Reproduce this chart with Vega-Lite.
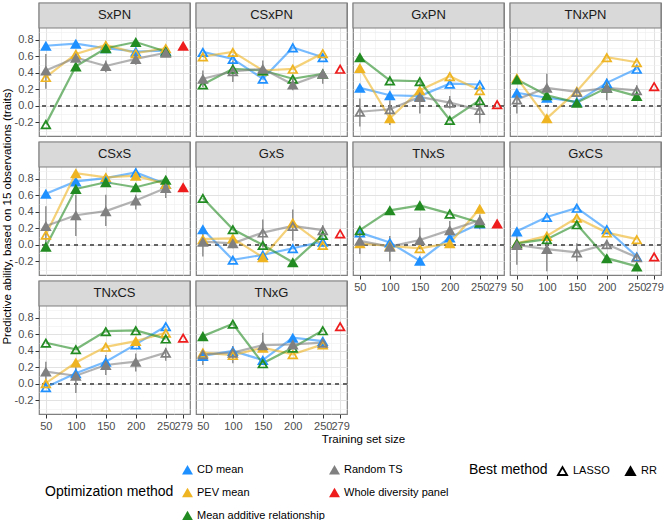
{
"$schema":"https://vega.github.io/schema/vega-lite/v6.json",
"padding":{"left":0,"top":1,"right":2,"bottom":2},
"config":{"font":"Liberation Sans","mark":{"color":"#000000"},"view":{"stroke":"#7f7f7f","strokeWidth":1.2},"axis":{"grid":true,"domain":false,"tickColor":"#333333","tickSize":4,"tickCount":20,"labelColor":"#4d4d4d","labelFontSize":11,"labelOverlap":false,"titleFontWeight":"normal","titleFontSize":11.5,"titleColor":"#000000","labelPadding":2}},
"datasets":{"d":[
{"p":"SxPN","x":50,"m":"CD mean","b":"RR","v":0.73},{"p":"SxPN","x":100,"m":"CD mean","b":"RR","v":0.755},{"p":"SxPN","x":150,"m":"CD mean","b":"RR","v":0.70},{"p":"SxPN","x":200,"m":"CD mean","b":"RR","v":0.66},{"p":"SxPN","x":250,"m":"CD mean","b":"RR","v":0.67},
{"p":"SxPN","x":50,"m":"PEV mean","b":"LASSO","v":0.35},{"p":"SxPN","x":100,"m":"PEV mean","b":"LASSO","v":0.63},{"p":"SxPN","x":150,"m":"PEV mean","b":"LASSO","v":0.74},{"p":"SxPN","x":200,"m":"PEV mean","b":"LASSO","v":0.64},{"p":"SxPN","x":250,"m":"PEV mean","b":"LASSO","v":0.70},
{"p":"SxPN","x":50,"m":"Mean additive relationship","b":"LASSO","v":-0.22},{"p":"SxPN","x":100,"m":"Mean additive relationship","b":"RR","v":0.48},{"p":"SxPN","x":150,"m":"Mean additive relationship","b":"RR","v":0.70},{"p":"SxPN","x":200,"m":"Mean additive relationship","b":"RR","v":0.775},{"p":"SxPN","x":250,"m":"Mean additive relationship","b":"RR","v":0.66},
{"p":"SxPN","x":50,"m":"Random TS","b":"RR","v":0.43,"lo":0.21,"hi":0.63},{"p":"SxPN","x":100,"m":"Random TS","b":"RR","v":0.585,"lo":0.55,"hi":0.62},{"p":"SxPN","x":150,"m":"Random TS","b":"RR","v":0.485,"lo":0.41,"hi":0.55},{"p":"SxPN","x":200,"m":"Random TS","b":"RR","v":0.57,"lo":0.50,"hi":0.63},{"p":"SxPN","x":250,"m":"Random TS","b":"RR","v":0.645,"lo":0.62,"hi":0.67},
{"p":"SxPN","x":279,"m":"Whole diversity panel","b":"RR","v":0.73},
{"p":"CSxPN","x":50,"m":"CD mean","b":"LASSO","v":0.655},{"p":"CSxPN","x":100,"m":"CD mean","b":"LASSO","v":0.57},{"p":"CSxPN","x":150,"m":"CD mean","b":"LASSO","v":0.33},{"p":"CSxPN","x":200,"m":"CD mean","b":"LASSO","v":0.71},{"p":"CSxPN","x":250,"m":"CD mean","b":"LASSO","v":0.59},
{"p":"CSxPN","x":50,"m":"PEV mean","b":"LASSO","v":0.60},{"p":"CSxPN","x":100,"m":"PEV mean","b":"LASSO","v":0.655},{"p":"CSxPN","x":150,"m":"PEV mean","b":"RR","v":0.43},{"p":"CSxPN","x":200,"m":"PEV mean","b":"LASSO","v":0.45},{"p":"CSxPN","x":250,"m":"PEV mean","b":"LASSO","v":0.64},
{"p":"CSxPN","x":50,"m":"Mean additive relationship","b":"LASSO","v":0.26},{"p":"CSxPN","x":100,"m":"Mean additive relationship","b":"LASSO","v":0.45},{"p":"CSxPN","x":150,"m":"Mean additive relationship","b":"RR","v":0.43},{"p":"CSxPN","x":200,"m":"Mean additive relationship","b":"LASSO","v":0.33},{"p":"CSxPN","x":250,"m":"Mean additive relationship","b":"RR","v":0.39},
{"p":"CSxPN","x":50,"m":"Random TS","b":"RR","v":0.33,"lo":0.23,"hi":0.43},{"p":"CSxPN","x":100,"m":"Random TS","b":"LASSO","v":0.42,"lo":0.29,"hi":0.55},{"p":"CSxPN","x":150,"m":"Random TS","b":"RR","v":0.45,"lo":0.35,"hi":0.55},{"p":"CSxPN","x":200,"m":"Random TS","b":"RR","v":0.26,"lo":0.19,"hi":0.33},{"p":"CSxPN","x":250,"m":"Random TS","b":"RR","v":0.39,"lo":0.27,"hi":0.45},
{"p":"CSxPN","x":279,"m":"Whole diversity panel","b":"LASSO","v":0.45},
{"p":"GxPN","x":50,"m":"CD mean","b":"RR","v":0.22},{"p":"GxPN","x":100,"m":"CD mean","b":"RR","v":0.13},{"p":"GxPN","x":150,"m":"CD mean","b":"LASSO","v":0.12},{"p":"GxPN","x":200,"m":"CD mean","b":"LASSO","v":0.27},{"p":"GxPN","x":250,"m":"CD mean","b":"LASSO","v":0.26},
{"p":"GxPN","x":50,"m":"PEV mean","b":"RR","v":0.46},{"p":"GxPN","x":100,"m":"PEV mean","b":"RR","v":-0.15},{"p":"GxPN","x":150,"m":"PEV mean","b":"RR","v":0.19},{"p":"GxPN","x":200,"m":"PEV mean","b":"LASSO","v":0.36},{"p":"GxPN","x":250,"m":"PEV mean","b":"LASSO","v":0.19},
{"p":"GxPN","x":50,"m":"Mean additive relationship","b":"RR","v":0.59},{"p":"GxPN","x":100,"m":"Mean additive relationship","b":"LASSO","v":0.31},{"p":"GxPN","x":150,"m":"Mean additive relationship","b":"LASSO","v":0.30},{"p":"GxPN","x":200,"m":"Mean additive relationship","b":"LASSO","v":-0.17},{"p":"GxPN","x":250,"m":"Mean additive relationship","b":"LASSO","v":0.07},
{"p":"GxPN","x":50,"m":"Random TS","b":"LASSO","v":-0.07,"lo":-0.25,"hi":0.09},{"p":"GxPN","x":100,"m":"Random TS","b":"LASSO","v":-0.04,"lo":-0.23,"hi":0.07},{"p":"GxPN","x":150,"m":"Random TS","b":"RR","v":0.11,"lo":-0.09,"hi":0.27},{"p":"GxPN","x":200,"m":"Random TS","b":"LASSO","v":0.04,"lo":-0.03,"hi":0.12},{"p":"GxPN","x":250,"m":"Random TS","b":"LASSO","v":-0.05,"lo":-0.21,"hi":0.09},
{"p":"GxPN","x":279,"m":"Whole diversity panel","b":"LASSO","v":0.02},
{"p":"TNxPN","x":50,"m":"CD mean","b":"RR","v":0.16},{"p":"TNxPN","x":100,"m":"CD mean","b":"RR","v":0.10},{"p":"TNxPN","x":150,"m":"CD mean","b":"RR","v":0.05},{"p":"TNxPN","x":200,"m":"CD mean","b":"LASSO","v":0.28},{"p":"TNxPN","x":250,"m":"CD mean","b":"LASSO","v":0.45},
{"p":"TNxPN","x":50,"m":"PEV mean","b":"LASSO","v":0.34},{"p":"TNxPN","x":100,"m":"PEV mean","b":"RR","v":-0.15},{"p":"TNxPN","x":150,"m":"PEV mean","b":"LASSO","v":0.18},{"p":"TNxPN","x":200,"m":"PEV mean","b":"LASSO","v":0.59},{"p":"TNxPN","x":250,"m":"PEV mean","b":"LASSO","v":0.53},
{"p":"TNxPN","x":50,"m":"Mean additive relationship","b":"RR","v":0.32},{"p":"TNxPN","x":100,"m":"Mean additive relationship","b":"RR","v":0.13},{"p":"TNxPN","x":150,"m":"Mean additive relationship","b":"RR","v":0.04},{"p":"TNxPN","x":200,"m":"Mean additive relationship","b":"RR","v":0.22},{"p":"TNxPN","x":250,"m":"Mean additive relationship","b":"RR","v":0.12},
{"p":"TNxPN","x":50,"m":"Random TS","b":"LASSO","v":0.08,"lo":-0.09,"hi":0.19},{"p":"TNxPN","x":100,"m":"Random TS","b":"RR","v":0.22,"lo":0.09,"hi":0.39},{"p":"TNxPN","x":150,"m":"Random TS","b":"LASSO","v":0.17,"lo":0.10,"hi":0.22},{"p":"TNxPN","x":200,"m":"Random TS","b":"RR","v":0.22,"lo":0.07,"hi":0.33},{"p":"TNxPN","x":250,"m":"Random TS","b":"LASSO","v":0.19,"lo":0.12,"hi":0.25},
{"p":"TNxPN","x":279,"m":"Whole diversity panel","b":"LASSO","v":0.24},
{"p":"CSxS","x":50,"m":"CD mean","b":"RR","v":0.62},{"p":"CSxS","x":100,"m":"CD mean","b":"RR","v":0.77},{"p":"CSxS","x":150,"m":"CD mean","b":"RR","v":0.81},{"p":"CSxS","x":200,"m":"CD mean","b":"LASSO","v":0.88},{"p":"CSxS","x":250,"m":"CD mean","b":"RR","v":0.74},
{"p":"CSxS","x":50,"m":"PEV mean","b":"LASSO","v":0.125},{"p":"CSxS","x":100,"m":"PEV mean","b":"RR","v":0.87},{"p":"CSxS","x":150,"m":"PEV mean","b":"LASSO","v":0.82},{"p":"CSxS","x":200,"m":"PEV mean","b":"RR","v":0.84},{"p":"CSxS","x":250,"m":"PEV mean","b":"LASSO","v":0.74},
{"p":"CSxS","x":50,"m":"Mean additive relationship","b":"RR","v":-0.02},{"p":"CSxS","x":100,"m":"Mean additive relationship","b":"RR","v":0.68},{"p":"CSxS","x":150,"m":"Mean additive relationship","b":"RR","v":0.76},{"p":"CSxS","x":200,"m":"Mean additive relationship","b":"RR","v":0.70},{"p":"CSxS","x":250,"m":"Mean additive relationship","b":"RR","v":0.79},
{"p":"CSxS","x":50,"m":"Random TS","b":"RR","v":0.23,"lo":0.0,"hi":0.47},{"p":"CSxS","x":100,"m":"Random TS","b":"RR","v":0.36,"lo":0.11,"hi":0.61},{"p":"CSxS","x":150,"m":"Random TS","b":"RR","v":0.41,"lo":0.23,"hi":0.61},{"p":"CSxS","x":200,"m":"Random TS","b":"RR","v":0.54,"lo":0.43,"hi":0.61},{"p":"CSxS","x":250,"m":"Random TS","b":"RR","v":0.69,"lo":0.57,"hi":0.75},
{"p":"CSxS","x":279,"m":"Whole diversity panel","b":"RR","v":0.70},
{"p":"GxS","x":50,"m":"CD mean","b":"RR","v":0.19},{"p":"GxS","x":100,"m":"CD mean","b":"LASSO","v":-0.18},{"p":"GxS","x":150,"m":"CD mean","b":"LASSO","v":-0.12},{"p":"GxS","x":200,"m":"CD mean","b":"LASSO","v":-0.04},{"p":"GxS","x":250,"m":"CD mean","b":"LASSO","v":0.04},
{"p":"GxS","x":50,"m":"PEV mean","b":"RR","v":0.07},{"p":"GxS","x":100,"m":"PEV mean","b":"RR","v":0.08},{"p":"GxS","x":150,"m":"PEV mean","b":"RR","v":-0.15},{"p":"GxS","x":200,"m":"PEV mean","b":"RR","v":0.27},{"p":"GxS","x":250,"m":"PEV mean","b":"LASSO","v":0.0},
{"p":"GxS","x":50,"m":"Mean additive relationship","b":"LASSO","v":0.57},{"p":"GxS","x":100,"m":"Mean additive relationship","b":"LASSO","v":0.19},{"p":"GxS","x":150,"m":"Mean additive relationship","b":"LASSO","v":0.0},{"p":"GxS","x":200,"m":"Mean additive relationship","b":"RR","v":-0.21},{"p":"GxS","x":250,"m":"Mean additive relationship","b":"LASSO","v":0.12},
{"p":"GxS","x":50,"m":"Random TS","b":"RR","v":0.04,"lo":-0.14,"hi":0.17},{"p":"GxS","x":100,"m":"Random TS","b":"RR","v":0.02,"lo":-0.04,"hi":0.08},{"p":"GxS","x":150,"m":"Random TS","b":"LASSO","v":0.15,"lo":-0.03,"hi":0.31},{"p":"GxS","x":200,"m":"Random TS","b":"LASSO","v":0.23,"lo":0.05,"hi":0.43},{"p":"GxS","x":250,"m":"Random TS","b":"LASSO","v":0.18,"lo":0.12,"hi":0.24},
{"p":"GxS","x":279,"m":"Whole diversity panel","b":"LASSO","v":0.14},
{"p":"TNxS","x":50,"m":"CD mean","b":"LASSO","v":0.15},{"p":"TNxS","x":100,"m":"CD mean","b":"RR","v":0.03},{"p":"TNxS","x":150,"m":"CD mean","b":"RR","v":-0.19},{"p":"TNxS","x":200,"m":"CD mean","b":"RR","v":0.09},{"p":"TNxS","x":250,"m":"CD mean","b":"RR","v":0.26},
{"p":"TNxS","x":50,"m":"PEV mean","b":"RR","v":0.02},{"p":"TNxS","x":100,"m":"PEV mean","b":"RR","v":-0.01},{"p":"TNxS","x":150,"m":"PEV mean","b":"LASSO","v":-0.04},{"p":"TNxS","x":200,"m":"PEV mean","b":"RR","v":0.02},{"p":"TNxS","x":250,"m":"PEV mean","b":"RR","v":0.44},
{"p":"TNxS","x":50,"m":"Mean additive relationship","b":"LASSO","v":0.18},{"p":"TNxS","x":100,"m":"Mean additive relationship","b":"RR","v":0.42},{"p":"TNxS","x":150,"m":"Mean additive relationship","b":"RR","v":0.48},{"p":"TNxS","x":200,"m":"Mean additive relationship","b":"LASSO","v":0.38},{"p":"TNxS","x":250,"m":"Mean additive relationship","b":"RR","v":0.27},
{"p":"TNxS","x":50,"m":"Random TS","b":"RR","v":0.05,"lo":-0.11,"hi":0.17},{"p":"TNxS","x":100,"m":"Random TS","b":"RR","v":-0.02,"lo":-0.20,"hi":0.11},{"p":"TNxS","x":150,"m":"Random TS","b":"RR","v":0.06,"lo":-0.05,"hi":0.21},{"p":"TNxS","x":200,"m":"Random TS","b":"RR","v":0.18,"lo":0.09,"hi":0.29},{"p":"TNxS","x":250,"m":"Random TS","b":"RR","v":0.30,"lo":0.19,"hi":0.37},
{"p":"TNxS","x":279,"m":"Whole diversity panel","b":"RR","v":0.26},
{"p":"GxCS","x":50,"m":"CD mean","b":"RR","v":0.165},{"p":"GxCS","x":100,"m":"CD mean","b":"LASSO","v":0.34},{"p":"GxCS","x":150,"m":"CD mean","b":"LASSO","v":0.45},{"p":"GxCS","x":200,"m":"CD mean","b":"LASSO","v":0.19},{"p":"GxCS","x":250,"m":"CD mean","b":"LASSO","v":-0.14},
{"p":"GxCS","x":50,"m":"PEV mean","b":"RR","v":0.02},{"p":"GxCS","x":100,"m":"PEV mean","b":"RR","v":0.11},{"p":"GxCS","x":150,"m":"PEV mean","b":"LASSO","v":0.33},{"p":"GxCS","x":200,"m":"PEV mean","b":"LASSO","v":0.15},{"p":"GxCS","x":250,"m":"PEV mean","b":"LASSO","v":0.07},
{"p":"GxCS","x":50,"m":"Mean additive relationship","b":"RR","v":0.02},{"p":"GxCS","x":100,"m":"Mean additive relationship","b":"LASSO","v":0.07},{"p":"GxCS","x":150,"m":"Mean additive relationship","b":"LASSO","v":0.25},{"p":"GxCS","x":200,"m":"Mean additive relationship","b":"RR","v":-0.16},{"p":"GxCS","x":250,"m":"Mean additive relationship","b":"RR","v":-0.26},
{"p":"GxCS","x":50,"m":"Random TS","b":"RR","v":0.0,"lo":-0.24,"hi":0.14},{"p":"GxCS","x":100,"m":"Random TS","b":"RR","v":-0.05,"lo":-0.32,"hi":0.12},{"p":"GxCS","x":150,"m":"Random TS","b":"LASSO","v":-0.09,"lo":-0.20,"hi":0.02},{"p":"GxCS","x":200,"m":"Random TS","b":"LASSO","v":0.01,"lo":-0.04,"hi":0.06},{"p":"GxCS","x":250,"m":"Random TS","b":"LASSO","v":-0.15,"lo":-0.20,"hi":-0.10},
{"p":"GxCS","x":279,"m":"Whole diversity panel","b":"LASSO","v":-0.14},
{"p":"TNxCS","x":50,"m":"CD mean","b":"LASSO","v":-0.04},{"p":"TNxCS","x":100,"m":"CD mean","b":"RR","v":0.13},{"p":"TNxCS","x":150,"m":"CD mean","b":"RR","v":0.27},{"p":"TNxCS","x":200,"m":"CD mean","b":"LASSO","v":0.48},{"p":"TNxCS","x":250,"m":"CD mean","b":"LASSO","v":0.70},
{"p":"TNxCS","x":50,"m":"PEV mean","b":"LASSO","v":0.01},{"p":"TNxCS","x":100,"m":"PEV mean","b":"RR","v":0.26},{"p":"TNxCS","x":150,"m":"PEV mean","b":"LASSO","v":0.45},{"p":"TNxCS","x":200,"m":"PEV mean","b":"RR","v":0.52},{"p":"TNxCS","x":250,"m":"PEV mean","b":"LASSO","v":0.62},
{"p":"TNxCS","x":50,"m":"Mean additive relationship","b":"LASSO","v":0.50},{"p":"TNxCS","x":100,"m":"Mean additive relationship","b":"LASSO","v":0.42},{"p":"TNxCS","x":150,"m":"Mean additive relationship","b":"LASSO","v":0.64},{"p":"TNxCS","x":200,"m":"Mean additive relationship","b":"LASSO","v":0.65},{"p":"TNxCS","x":250,"m":"Mean additive relationship","b":"LASSO","v":0.55},
{"p":"TNxCS","x":50,"m":"Random TS","b":"RR","v":0.15,"lo":0.01,"hi":0.27},{"p":"TNxCS","x":100,"m":"Random TS","b":"RR","v":0.10,"lo":-0.11,"hi":0.23},{"p":"TNxCS","x":150,"m":"Random TS","b":"RR","v":0.23,"lo":0.11,"hi":0.35},{"p":"TNxCS","x":200,"m":"Random TS","b":"RR","v":0.27,"lo":0.15,"hi":0.37},{"p":"TNxCS","x":250,"m":"Random TS","b":"LASSO","v":0.38,"lo":0.28,"hi":0.44},
{"p":"TNxCS","x":279,"m":"Whole diversity panel","b":"LASSO","v":0.56},
{"p":"TNxG","x":50,"m":"CD mean","b":"RR","v":0.34},{"p":"TNxG","x":100,"m":"CD mean","b":"LASSO","v":0.40},{"p":"TNxG","x":150,"m":"CD mean","b":"LASSO","v":0.29},{"p":"TNxG","x":200,"m":"CD mean","b":"RR","v":0.56},{"p":"TNxG","x":250,"m":"CD mean","b":"LASSO","v":0.52},
{"p":"TNxG","x":50,"m":"PEV mean","b":"LASSO","v":0.38},{"p":"TNxG","x":100,"m":"PEV mean","b":"LASSO","v":0.35},{"p":"TNxG","x":150,"m":"PEV mean","b":"RR","v":0.44},{"p":"TNxG","x":200,"m":"PEV mean","b":"LASSO","v":0.36},{"p":"TNxG","x":250,"m":"PEV mean","b":"LASSO","v":0.48},
{"p":"TNxG","x":50,"m":"Mean additive relationship","b":"RR","v":0.58},{"p":"TNxG","x":100,"m":"Mean additive relationship","b":"LASSO","v":0.73},{"p":"TNxG","x":150,"m":"Mean additive relationship","b":"LASSO","v":0.25},{"p":"TNxG","x":200,"m":"Mean additive relationship","b":"LASSO","v":0.44},{"p":"TNxG","x":250,"m":"Mean additive relationship","b":"LASSO","v":0.65},
{"p":"TNxG","x":50,"m":"Random TS","b":"LASSO","v":0.36,"lo":0.23,"hi":0.42},{"p":"TNxG","x":100,"m":"Random TS","b":"LASSO","v":0.38,"lo":0.25,"hi":0.46},{"p":"TNxG","x":150,"m":"Random TS","b":"RR","v":0.47,"lo":0.40,"hi":0.62},{"p":"TNxG","x":200,"m":"Random TS","b":"RR","v":0.48,"lo":0.44,"hi":0.52},{"p":"TNxG","x":250,"m":"Random TS","b":"LASSO","v":0.50,"lo":0.46,"hi":0.54},
{"p":"TNxG","x":279,"m":"Whole diversity panel","b":"LASSO","v":0.70}
]},
"columns":4,
"spacing":6,
"bounds":"flush",
"concat":[
{"width":151,"height":133,"layer":[
  {"data":{"values":[{"t":"SxPN"}]},"mark":{"type":"rect","fill":"#d9d9d9","stroke":"#7f7f7f","strokeWidth":1.2},"encoding":{"y":{"datum":0.945,"type":"quantitative","scale":{"domain":[-0.364,1.248],"nice":false,"zero":false},"axis":{"values":[-0.3,-0.2,-0.1,0,0.1,0.2,0.3,0.4,0.5,0.6,0.7,0.8,0.9],"tickCount":20,"labelOverlap":false,"title":null,"labelExpr":"round(datum.value*10)%2==0?(datum.value<0?'-'+format(-datum.value,'.1f'):format(datum.value,'.1f')):''","tickOpacity":{"condition":{"test":"round(datum.value*10)%2==0","value":1},"value":0},"gridColor":{"condition":{"test":"round(datum.value*10)%2==0","value":"#e2e2e2"},"value":"#efefef"},"gridWidth":{"condition":{"test":"round(datum.value*10)%2==0","value":1.1},"value":0.6}}},"y2":{"datum":1.248}}},
  {"data":{"values":[{"t":"SxPN"}]},"mark":{"type":"text","fontSize":13,"color":"#1a1a1a"},"encoding":{"y":{"datum":1.0965,"type":"quantitative"},"text":{"field":"t"}}},
  {"data":{"name":"d"},"transform":[{"filter":"datum.p=='SxPN'"}],"mark":{"type":"rule","strokeDash":[4,4],"color":"#666666","strokeWidth":1},"encoding":{"y":{"datum":0,"type":"quantitative"}}},
  {"data":{"name":"d"},"transform":[{"filter":"datum.p=='SxPN'"}],"mark":{"type":"line","strokeWidth":2.2,"strokeOpacity":0.6},"encoding":{"x":{"field":"x","type":"quantitative","scale":{"domain":[38.55,290.45],"nice":false,"zero":false},"axis":{"values":[50,75,100,125,150,175,200,225,250,264.5,279],"tickCount":20,"labels":false,"ticks":false,"title":null,"gridColor":{"condition":{"test":"indexof([50,100,150,200,250,279],datum.value)>=0","value":"#e2e2e2"},"value":"#efefef"},"gridWidth":{"condition":{"test":"indexof([50,100,150,200,250,279],datum.value)>=0","value":1.1},"value":0.6}}},"y":{"field":"v","type":"quantitative"},"color":{"field":"m","type":"nominal","scale":{"domain":["CD mean","PEV mean","Mean additive relationship","Random TS","Whole diversity panel"],"range":["#1e90ff","#eeb422","#228b22","#808080","#ee1c1c"]}}}},
  {"data":{"name":"d"},"transform":[{"filter":"datum.p=='SxPN' && datum.m=='Random TS'"}],"mark":{"type":"rule","color":"#7f7f7f","strokeWidth":1.3},"encoding":{"x":{"field":"x","type":"quantitative"},"y":{"field":"lo","type":"quantitative"},"y2":{"field":"hi"}}},
  {"data":{"name":"d"},"transform":[{"filter":"datum.p=='SxPN'"}],"mark":{"type":"point","filled":true,"size":135,"opacity":1},"encoding":{"x":{"field":"x","type":"quantitative"},"y":{"field":"v","type":"quantitative"},
   "color":{"field":"m","type":"nominal","scale":{"domain":["CD mean","PEV mean","Mean additive relationship","Random TS","Whole diversity panel"],"range":["#1e90ff","#eeb422","#228b22","#808080","#ee1c1c"]},"legend":{"title":"Optimization method","orient":"none","legendX":6,"legendY":461,"columns":2,"titleOrient":"left","titleAnchor":"middle","titleBaseline":"middle","titleFontSize":14,"titleFontWeight":"normal","titleColor":"#000000","titlePadding":8,"labelFontSize":11,"labelColor":"#000000","symbolType":"triangle-up","symbolSize":120,"symbolStrokeWidth":0,"symbolOpacity":1,"rowPadding":11,"columnPadding":4,"labelLimit":200}},
   "shape":{"field":"b","type":"nominal","scale":{"domain":["LASSO","RR"],"range":["M0,-0.866L1,0.866L-1,0.866ZM0,-0.266L-0.48,0.566L0.48,0.566Z","M0,-0.866L1,0.866L-1,0.866Z"]},"legend":{"title":"Best method","orient":"none","legendX":430,"legendY":461,"direction":"horizontal","titleOrient":"left","titleAnchor":"middle","titleBaseline":"middle","titleFontSize":14,"titleFontWeight":"normal","titleColor":"#000000","titlePadding":8,"labelFontSize":11,"labelColor":"#000000","symbolSize":150,"symbolFillColor":"#000000","symbolStrokeWidth":0,"columnPadding":14}}}}
]},
{"width":151,"height":133,"layer":[
  {"data":{"values":[{"t":"CSxPN"}]},"mark":{"type":"rect","fill":"#d9d9d9","stroke":"#7f7f7f","strokeWidth":1.2},"encoding":{"y":{"datum":0.945,"type":"quantitative","scale":{"domain":[-0.364,1.248],"nice":false,"zero":false},"axis":{"values":[-0.3,-0.2,-0.1,0,0.1,0.2,0.3,0.4,0.5,0.6,0.7,0.8,0.9],"tickCount":20,"labels":false,"ticks":false,"title":null,"gridColor":{"condition":{"test":"round(datum.value*10)%2==0","value":"#e2e2e2"},"value":"#efefef"},"gridWidth":{"condition":{"test":"round(datum.value*10)%2==0","value":1.1},"value":0.6}}},"y2":{"datum":1.248}}},
  {"data":{"values":[{"t":"CSxPN"}]},"mark":{"type":"text","fontSize":13,"color":"#1a1a1a"},"encoding":{"y":{"datum":1.0965,"type":"quantitative"},"text":{"field":"t"}}},
  {"data":{"name":"d"},"transform":[{"filter":"datum.p=='CSxPN'"}],"mark":{"type":"rule","strokeDash":[4,4],"color":"#666666","strokeWidth":1},"encoding":{"y":{"datum":0,"type":"quantitative"}}},
  {"data":{"name":"d"},"transform":[{"filter":"datum.p=='CSxPN'"}],"mark":{"type":"line","strokeWidth":2.2,"strokeOpacity":0.6},"encoding":{"x":{"field":"x","type":"quantitative","scale":{"domain":[38.55,290.45],"nice":false,"zero":false},"axis":{"values":[50,75,100,125,150,175,200,225,250,264.5,279],"tickCount":20,"labels":false,"ticks":false,"title":null,"gridColor":{"condition":{"test":"indexof([50,100,150,200,250,279],datum.value)>=0","value":"#e2e2e2"},"value":"#efefef"},"gridWidth":{"condition":{"test":"indexof([50,100,150,200,250,279],datum.value)>=0","value":1.1},"value":0.6}}},"y":{"field":"v","type":"quantitative"},"color":{"field":"m","type":"nominal"}}},
  {"data":{"name":"d"},"transform":[{"filter":"datum.p=='CSxPN' && datum.m=='Random TS'"}],"mark":{"type":"rule","color":"#7f7f7f","strokeWidth":1.3},"encoding":{"x":{"field":"x","type":"quantitative"},"y":{"field":"lo","type":"quantitative"},"y2":{"field":"hi"}}},
  {"data":{"name":"d"},"transform":[{"filter":"datum.p=='CSxPN'"}],"mark":{"type":"point","filled":true,"size":135,"opacity":1},"encoding":{"x":{"field":"x","type":"quantitative"},"y":{"field":"v","type":"quantitative"},"color":{"field":"m","type":"nominal"},"shape":{"field":"b","type":"nominal"}}}
]},
{"width":151,"height":133,"layer":[
  {"data":{"values":[{"t":"GxPN"}]},"mark":{"type":"rect","fill":"#d9d9d9","stroke":"#7f7f7f","strokeWidth":1.2},"encoding":{"y":{"datum":0.945,"type":"quantitative","scale":{"domain":[-0.364,1.248],"nice":false,"zero":false},"axis":{"values":[-0.3,-0.2,-0.1,0,0.1,0.2,0.3,0.4,0.5,0.6,0.7,0.8,0.9],"tickCount":20,"labels":false,"ticks":false,"title":null,"gridColor":{"condition":{"test":"round(datum.value*10)%2==0","value":"#e2e2e2"},"value":"#efefef"},"gridWidth":{"condition":{"test":"round(datum.value*10)%2==0","value":1.1},"value":0.6}}},"y2":{"datum":1.248}}},
  {"data":{"values":[{"t":"GxPN"}]},"mark":{"type":"text","fontSize":13,"color":"#1a1a1a"},"encoding":{"y":{"datum":1.0965,"type":"quantitative"},"text":{"field":"t"}}},
  {"data":{"name":"d"},"transform":[{"filter":"datum.p=='GxPN'"}],"mark":{"type":"rule","strokeDash":[4,4],"color":"#666666","strokeWidth":1},"encoding":{"y":{"datum":0,"type":"quantitative"}}},
  {"data":{"name":"d"},"transform":[{"filter":"datum.p=='GxPN'"}],"mark":{"type":"line","strokeWidth":2.2,"strokeOpacity":0.6},"encoding":{"x":{"field":"x","type":"quantitative","scale":{"domain":[38.55,290.45],"nice":false,"zero":false},"axis":{"values":[50,75,100,125,150,175,200,225,250,264.5,279],"tickCount":20,"labels":false,"ticks":false,"title":null,"gridColor":{"condition":{"test":"indexof([50,100,150,200,250,279],datum.value)>=0","value":"#e2e2e2"},"value":"#efefef"},"gridWidth":{"condition":{"test":"indexof([50,100,150,200,250,279],datum.value)>=0","value":1.1},"value":0.6}}},"y":{"field":"v","type":"quantitative"},"color":{"field":"m","type":"nominal"}}},
  {"data":{"name":"d"},"transform":[{"filter":"datum.p=='GxPN' && datum.m=='Random TS'"}],"mark":{"type":"rule","color":"#7f7f7f","strokeWidth":1.3},"encoding":{"x":{"field":"x","type":"quantitative"},"y":{"field":"lo","type":"quantitative"},"y2":{"field":"hi"}}},
  {"data":{"name":"d"},"transform":[{"filter":"datum.p=='GxPN'"}],"mark":{"type":"point","filled":true,"size":135,"opacity":1},"encoding":{"x":{"field":"x","type":"quantitative"},"y":{"field":"v","type":"quantitative"},"color":{"field":"m","type":"nominal"},"shape":{"field":"b","type":"nominal"}}}
]},
{"width":151,"height":133,"layer":[
  {"data":{"values":[{"t":"TNxPN"}]},"mark":{"type":"rect","fill":"#d9d9d9","stroke":"#7f7f7f","strokeWidth":1.2},"encoding":{"y":{"datum":0.945,"type":"quantitative","scale":{"domain":[-0.364,1.248],"nice":false,"zero":false},"axis":{"values":[-0.3,-0.2,-0.1,0,0.1,0.2,0.3,0.4,0.5,0.6,0.7,0.8,0.9],"tickCount":20,"labels":false,"ticks":false,"title":null,"gridColor":{"condition":{"test":"round(datum.value*10)%2==0","value":"#e2e2e2"},"value":"#efefef"},"gridWidth":{"condition":{"test":"round(datum.value*10)%2==0","value":1.1},"value":0.6}}},"y2":{"datum":1.248}}},
  {"data":{"values":[{"t":"TNxPN"}]},"mark":{"type":"text","fontSize":13,"color":"#1a1a1a"},"encoding":{"y":{"datum":1.0965,"type":"quantitative"},"text":{"field":"t"}}},
  {"data":{"name":"d"},"transform":[{"filter":"datum.p=='TNxPN'"}],"mark":{"type":"rule","strokeDash":[4,4],"color":"#666666","strokeWidth":1},"encoding":{"y":{"datum":0,"type":"quantitative"}}},
  {"data":{"name":"d"},"transform":[{"filter":"datum.p=='TNxPN'"}],"mark":{"type":"line","strokeWidth":2.2,"strokeOpacity":0.6},"encoding":{"x":{"field":"x","type":"quantitative","scale":{"domain":[38.55,290.45],"nice":false,"zero":false},"axis":{"values":[50,75,100,125,150,175,200,225,250,264.5,279],"tickCount":20,"labels":false,"ticks":false,"title":null,"gridColor":{"condition":{"test":"indexof([50,100,150,200,250,279],datum.value)>=0","value":"#e2e2e2"},"value":"#efefef"},"gridWidth":{"condition":{"test":"indexof([50,100,150,200,250,279],datum.value)>=0","value":1.1},"value":0.6}}},"y":{"field":"v","type":"quantitative"},"color":{"field":"m","type":"nominal"}}},
  {"data":{"name":"d"},"transform":[{"filter":"datum.p=='TNxPN' && datum.m=='Random TS'"}],"mark":{"type":"rule","color":"#7f7f7f","strokeWidth":1.3},"encoding":{"x":{"field":"x","type":"quantitative"},"y":{"field":"lo","type":"quantitative"},"y2":{"field":"hi"}}},
  {"data":{"name":"d"},"transform":[{"filter":"datum.p=='TNxPN'"}],"mark":{"type":"point","filled":true,"size":135,"opacity":1},"encoding":{"x":{"field":"x","type":"quantitative"},"y":{"field":"v","type":"quantitative"},"color":{"field":"m","type":"nominal"},"shape":{"field":"b","type":"nominal"}}}
]},
{"width":151,"height":133,"layer":[
  {"data":{"values":[{"t":"CSxS"}]},"mark":{"type":"rect","fill":"#d9d9d9","stroke":"#7f7f7f","strokeWidth":1.2},"encoding":{"y":{"datum":0.945,"type":"quantitative","scale":{"domain":[-0.364,1.248],"nice":false,"zero":false},"axis":{"values":[-0.3,-0.2,-0.1,0,0.1,0.2,0.3,0.4,0.5,0.6,0.7,0.8,0.9],"tickCount":20,"labelOverlap":false,"title":"Predictive ability, based on 15 observations (traits)","titleY":74,"titlePadding":2,"labelExpr":"round(datum.value*10)%2==0?(datum.value<0?'-'+format(-datum.value,'.1f'):format(datum.value,'.1f')):''","tickOpacity":{"condition":{"test":"round(datum.value*10)%2==0","value":1},"value":0},"gridColor":{"condition":{"test":"round(datum.value*10)%2==0","value":"#e2e2e2"},"value":"#efefef"},"gridWidth":{"condition":{"test":"round(datum.value*10)%2==0","value":1.1},"value":0.6}}},"y2":{"datum":1.248}}},
  {"data":{"values":[{"t":"CSxS"}]},"mark":{"type":"text","fontSize":13,"color":"#1a1a1a"},"encoding":{"y":{"datum":1.0965,"type":"quantitative"},"text":{"field":"t"}}},
  {"data":{"name":"d"},"transform":[{"filter":"datum.p=='CSxS'"}],"mark":{"type":"rule","strokeDash":[4,4],"color":"#666666","strokeWidth":1},"encoding":{"y":{"datum":0,"type":"quantitative"}}},
  {"data":{"name":"d"},"transform":[{"filter":"datum.p=='CSxS'"}],"mark":{"type":"line","strokeWidth":2.2,"strokeOpacity":0.6},"encoding":{"x":{"field":"x","type":"quantitative","scale":{"domain":[38.55,290.45],"nice":false,"zero":false},"axis":{"values":[50,75,100,125,150,175,200,225,250,264.5,279],"tickCount":20,"labels":false,"ticks":false,"title":null,"gridColor":{"condition":{"test":"indexof([50,100,150,200,250,279],datum.value)>=0","value":"#e2e2e2"},"value":"#efefef"},"gridWidth":{"condition":{"test":"indexof([50,100,150,200,250,279],datum.value)>=0","value":1.1},"value":0.6}}},"y":{"field":"v","type":"quantitative"},"color":{"field":"m","type":"nominal"}}},
  {"data":{"name":"d"},"transform":[{"filter":"datum.p=='CSxS' && datum.m=='Random TS'"}],"mark":{"type":"rule","color":"#7f7f7f","strokeWidth":1.3},"encoding":{"x":{"field":"x","type":"quantitative"},"y":{"field":"lo","type":"quantitative"},"y2":{"field":"hi"}}},
  {"data":{"name":"d"},"transform":[{"filter":"datum.p=='CSxS'"}],"mark":{"type":"point","filled":true,"size":135,"opacity":1},"encoding":{"x":{"field":"x","type":"quantitative"},"y":{"field":"v","type":"quantitative"},"color":{"field":"m","type":"nominal"},"shape":{"field":"b","type":"nominal"}}}
]},
{"width":151,"height":133,"layer":[
  {"data":{"values":[{"t":"GxS"}]},"mark":{"type":"rect","fill":"#d9d9d9","stroke":"#7f7f7f","strokeWidth":1.2},"encoding":{"y":{"datum":0.945,"type":"quantitative","scale":{"domain":[-0.364,1.248],"nice":false,"zero":false},"axis":{"values":[-0.3,-0.2,-0.1,0,0.1,0.2,0.3,0.4,0.5,0.6,0.7,0.8,0.9],"tickCount":20,"labels":false,"ticks":false,"title":null,"gridColor":{"condition":{"test":"round(datum.value*10)%2==0","value":"#e2e2e2"},"value":"#efefef"},"gridWidth":{"condition":{"test":"round(datum.value*10)%2==0","value":1.1},"value":0.6}}},"y2":{"datum":1.248}}},
  {"data":{"values":[{"t":"GxS"}]},"mark":{"type":"text","fontSize":13,"color":"#1a1a1a"},"encoding":{"y":{"datum":1.0965,"type":"quantitative"},"text":{"field":"t"}}},
  {"data":{"name":"d"},"transform":[{"filter":"datum.p=='GxS'"}],"mark":{"type":"rule","strokeDash":[4,4],"color":"#666666","strokeWidth":1},"encoding":{"y":{"datum":0,"type":"quantitative"}}},
  {"data":{"name":"d"},"transform":[{"filter":"datum.p=='GxS'"}],"mark":{"type":"line","strokeWidth":2.2,"strokeOpacity":0.6},"encoding":{"x":{"field":"x","type":"quantitative","scale":{"domain":[38.55,290.45],"nice":false,"zero":false},"axis":{"values":[50,75,100,125,150,175,200,225,250,264.5,279],"tickCount":20,"labels":false,"ticks":false,"title":null,"gridColor":{"condition":{"test":"indexof([50,100,150,200,250,279],datum.value)>=0","value":"#e2e2e2"},"value":"#efefef"},"gridWidth":{"condition":{"test":"indexof([50,100,150,200,250,279],datum.value)>=0","value":1.1},"value":0.6}}},"y":{"field":"v","type":"quantitative"},"color":{"field":"m","type":"nominal"}}},
  {"data":{"name":"d"},"transform":[{"filter":"datum.p=='GxS' && datum.m=='Random TS'"}],"mark":{"type":"rule","color":"#7f7f7f","strokeWidth":1.3},"encoding":{"x":{"field":"x","type":"quantitative"},"y":{"field":"lo","type":"quantitative"},"y2":{"field":"hi"}}},
  {"data":{"name":"d"},"transform":[{"filter":"datum.p=='GxS'"}],"mark":{"type":"point","filled":true,"size":135,"opacity":1},"encoding":{"x":{"field":"x","type":"quantitative"},"y":{"field":"v","type":"quantitative"},"color":{"field":"m","type":"nominal"},"shape":{"field":"b","type":"nominal"}}}
]},
{"width":151,"height":133,"layer":[
  {"data":{"values":[{"t":"TNxS"}]},"mark":{"type":"rect","fill":"#d9d9d9","stroke":"#7f7f7f","strokeWidth":1.2},"encoding":{"y":{"datum":0.945,"type":"quantitative","scale":{"domain":[-0.364,1.248],"nice":false,"zero":false},"axis":{"values":[-0.3,-0.2,-0.1,0,0.1,0.2,0.3,0.4,0.5,0.6,0.7,0.8,0.9],"tickCount":20,"labels":false,"ticks":false,"title":null,"gridColor":{"condition":{"test":"round(datum.value*10)%2==0","value":"#e2e2e2"},"value":"#efefef"},"gridWidth":{"condition":{"test":"round(datum.value*10)%2==0","value":1.1},"value":0.6}}},"y2":{"datum":1.248}}},
  {"data":{"values":[{"t":"TNxS"}]},"mark":{"type":"text","fontSize":13,"color":"#1a1a1a"},"encoding":{"y":{"datum":1.0965,"type":"quantitative"},"text":{"field":"t"}}},
  {"data":{"name":"d"},"transform":[{"filter":"datum.p=='TNxS'"}],"mark":{"type":"rule","strokeDash":[4,4],"color":"#666666","strokeWidth":1},"encoding":{"y":{"datum":0,"type":"quantitative"}}},
  {"data":{"name":"d"},"transform":[{"filter":"datum.p=='TNxS'"}],"mark":{"type":"line","strokeWidth":2.2,"strokeOpacity":0.6},"encoding":{"x":{"field":"x","type":"quantitative","scale":{"domain":[38.55,290.45],"nice":false,"zero":false},"axis":{"values":[50,75,100,125,150,175,200,225,250,264.5,279],"tickCount":20,"labelOverlap":false,"title":null,"labelExpr":"indexof([50,100,150,200,250,279],datum.value)>=0?datum.label:''","tickOpacity":{"condition":{"test":"indexof([50,100,150,200,250,279],datum.value)>=0","value":1},"value":0},"gridColor":{"condition":{"test":"indexof([50,100,150,200,250,279],datum.value)>=0","value":"#e2e2e2"},"value":"#efefef"},"gridWidth":{"condition":{"test":"indexof([50,100,150,200,250,279],datum.value)>=0","value":1.1},"value":0.6}}},"y":{"field":"v","type":"quantitative"},"color":{"field":"m","type":"nominal"}}},
  {"data":{"name":"d"},"transform":[{"filter":"datum.p=='TNxS' && datum.m=='Random TS'"}],"mark":{"type":"rule","color":"#7f7f7f","strokeWidth":1.3},"encoding":{"x":{"field":"x","type":"quantitative"},"y":{"field":"lo","type":"quantitative"},"y2":{"field":"hi"}}},
  {"data":{"name":"d"},"transform":[{"filter":"datum.p=='TNxS'"}],"mark":{"type":"point","filled":true,"size":135,"opacity":1},"encoding":{"x":{"field":"x","type":"quantitative"},"y":{"field":"v","type":"quantitative"},"color":{"field":"m","type":"nominal"},"shape":{"field":"b","type":"nominal"}}}
]},
{"width":151,"height":133,"layer":[
  {"data":{"values":[{"t":"GxCS"}]},"mark":{"type":"rect","fill":"#d9d9d9","stroke":"#7f7f7f","strokeWidth":1.2},"encoding":{"y":{"datum":0.945,"type":"quantitative","scale":{"domain":[-0.364,1.248],"nice":false,"zero":false},"axis":{"values":[-0.3,-0.2,-0.1,0,0.1,0.2,0.3,0.4,0.5,0.6,0.7,0.8,0.9],"tickCount":20,"labels":false,"ticks":false,"title":null,"gridColor":{"condition":{"test":"round(datum.value*10)%2==0","value":"#e2e2e2"},"value":"#efefef"},"gridWidth":{"condition":{"test":"round(datum.value*10)%2==0","value":1.1},"value":0.6}}},"y2":{"datum":1.248}}},
  {"data":{"values":[{"t":"GxCS"}]},"mark":{"type":"text","fontSize":13,"color":"#1a1a1a"},"encoding":{"y":{"datum":1.0965,"type":"quantitative"},"text":{"field":"t"}}},
  {"data":{"name":"d"},"transform":[{"filter":"datum.p=='GxCS'"}],"mark":{"type":"rule","strokeDash":[4,4],"color":"#666666","strokeWidth":1},"encoding":{"y":{"datum":0,"type":"quantitative"}}},
  {"data":{"name":"d"},"transform":[{"filter":"datum.p=='GxCS'"}],"mark":{"type":"line","strokeWidth":2.2,"strokeOpacity":0.6},"encoding":{"x":{"field":"x","type":"quantitative","scale":{"domain":[38.55,290.45],"nice":false,"zero":false},"axis":{"values":[50,75,100,125,150,175,200,225,250,264.5,279],"tickCount":20,"labelOverlap":false,"title":null,"labelExpr":"indexof([50,100,150,200,250,279],datum.value)>=0?datum.label:''","tickOpacity":{"condition":{"test":"indexof([50,100,150,200,250,279],datum.value)>=0","value":1},"value":0},"gridColor":{"condition":{"test":"indexof([50,100,150,200,250,279],datum.value)>=0","value":"#e2e2e2"},"value":"#efefef"},"gridWidth":{"condition":{"test":"indexof([50,100,150,200,250,279],datum.value)>=0","value":1.1},"value":0.6}}},"y":{"field":"v","type":"quantitative"},"color":{"field":"m","type":"nominal"}}},
  {"data":{"name":"d"},"transform":[{"filter":"datum.p=='GxCS' && datum.m=='Random TS'"}],"mark":{"type":"rule","color":"#7f7f7f","strokeWidth":1.3},"encoding":{"x":{"field":"x","type":"quantitative"},"y":{"field":"lo","type":"quantitative"},"y2":{"field":"hi"}}},
  {"data":{"name":"d"},"transform":[{"filter":"datum.p=='GxCS'"}],"mark":{"type":"point","filled":true,"size":135,"opacity":1},"encoding":{"x":{"field":"x","type":"quantitative"},"y":{"field":"v","type":"quantitative"},"color":{"field":"m","type":"nominal"},"shape":{"field":"b","type":"nominal"}}}
]},
{"width":151,"height":133,"layer":[
  {"data":{"values":[{"t":"TNxCS"}]},"mark":{"type":"rect","fill":"#d9d9d9","stroke":"#7f7f7f","strokeWidth":1.2},"encoding":{"y":{"datum":0.945,"type":"quantitative","scale":{"domain":[-0.364,1.248],"nice":false,"zero":false},"axis":{"values":[-0.3,-0.2,-0.1,0,0.1,0.2,0.3,0.4,0.5,0.6,0.7,0.8,0.9],"tickCount":20,"labelOverlap":false,"title":null,"labelExpr":"round(datum.value*10)%2==0?(datum.value<0?'-'+format(-datum.value,'.1f'):format(datum.value,'.1f')):''","tickOpacity":{"condition":{"test":"round(datum.value*10)%2==0","value":1},"value":0},"gridColor":{"condition":{"test":"round(datum.value*10)%2==0","value":"#e2e2e2"},"value":"#efefef"},"gridWidth":{"condition":{"test":"round(datum.value*10)%2==0","value":1.1},"value":0.6}}},"y2":{"datum":1.248}}},
  {"data":{"values":[{"t":"TNxCS"}]},"mark":{"type":"text","fontSize":13,"color":"#1a1a1a"},"encoding":{"y":{"datum":1.0965,"type":"quantitative"},"text":{"field":"t"}}},
  {"data":{"name":"d"},"transform":[{"filter":"datum.p=='TNxCS'"}],"mark":{"type":"rule","strokeDash":[4,4],"color":"#666666","strokeWidth":1},"encoding":{"y":{"datum":0,"type":"quantitative"}}},
  {"data":{"name":"d"},"transform":[{"filter":"datum.p=='TNxCS'"}],"mark":{"type":"line","strokeWidth":2.2,"strokeOpacity":0.6},"encoding":{"x":{"field":"x","type":"quantitative","scale":{"domain":[38.55,290.45],"nice":false,"zero":false},"axis":{"values":[50,75,100,125,150,175,200,225,250,264.5,279],"tickCount":20,"labelOverlap":false,"title":null,"labelExpr":"indexof([50,100,150,200,250,279],datum.value)>=0?datum.label:''","tickOpacity":{"condition":{"test":"indexof([50,100,150,200,250,279],datum.value)>=0","value":1},"value":0},"gridColor":{"condition":{"test":"indexof([50,100,150,200,250,279],datum.value)>=0","value":"#e2e2e2"},"value":"#efefef"},"gridWidth":{"condition":{"test":"indexof([50,100,150,200,250,279],datum.value)>=0","value":1.1},"value":0.6}}},"y":{"field":"v","type":"quantitative"},"color":{"field":"m","type":"nominal"}}},
  {"data":{"name":"d"},"transform":[{"filter":"datum.p=='TNxCS' && datum.m=='Random TS'"}],"mark":{"type":"rule","color":"#7f7f7f","strokeWidth":1.3},"encoding":{"x":{"field":"x","type":"quantitative"},"y":{"field":"lo","type":"quantitative"},"y2":{"field":"hi"}}},
  {"data":{"name":"d"},"transform":[{"filter":"datum.p=='TNxCS'"}],"mark":{"type":"point","filled":true,"size":135,"opacity":1},"encoding":{"x":{"field":"x","type":"quantitative"},"y":{"field":"v","type":"quantitative"},"color":{"field":"m","type":"nominal"},"shape":{"field":"b","type":"nominal"}}}
]},
{"width":151,"height":133,"layer":[
  {"data":{"values":[{"t":"TNxG"}]},"mark":{"type":"rect","fill":"#d9d9d9","stroke":"#7f7f7f","strokeWidth":1.2},"encoding":{"y":{"datum":0.945,"type":"quantitative","scale":{"domain":[-0.364,1.248],"nice":false,"zero":false},"axis":{"values":[-0.3,-0.2,-0.1,0,0.1,0.2,0.3,0.4,0.5,0.6,0.7,0.8,0.9],"tickCount":20,"labels":false,"ticks":false,"title":null,"gridColor":{"condition":{"test":"round(datum.value*10)%2==0","value":"#e2e2e2"},"value":"#efefef"},"gridWidth":{"condition":{"test":"round(datum.value*10)%2==0","value":1.1},"value":0.6}}},"y2":{"datum":1.248}}},
  {"data":{"values":[{"t":"TNxG"}]},"mark":{"type":"text","fontSize":13,"color":"#1a1a1a"},"encoding":{"y":{"datum":1.0965,"type":"quantitative"},"text":{"field":"t"}}},
  {"data":{"name":"d"},"transform":[{"filter":"datum.p=='TNxG'"}],"mark":{"type":"rule","strokeDash":[4,4],"color":"#666666","strokeWidth":1},"encoding":{"y":{"datum":0,"type":"quantitative"}}},
  {"data":{"name":"d"},"transform":[{"filter":"datum.p=='TNxG'"}],"mark":{"type":"line","strokeWidth":2.2,"strokeOpacity":0.6},"encoding":{"x":{"field":"x","type":"quantitative","scale":{"domain":[38.55,290.45],"nice":false,"zero":false},"axis":{"values":[50,75,100,125,150,175,200,225,250,264.5,279],"tickCount":20,"labelOverlap":false,"title":"Training set size","titleX":167,"titlePadding":2,"labelExpr":"indexof([50,100,150,200,250,279],datum.value)>=0?datum.label:''","tickOpacity":{"condition":{"test":"indexof([50,100,150,200,250,279],datum.value)>=0","value":1},"value":0},"gridColor":{"condition":{"test":"indexof([50,100,150,200,250,279],datum.value)>=0","value":"#e2e2e2"},"value":"#efefef"},"gridWidth":{"condition":{"test":"indexof([50,100,150,200,250,279],datum.value)>=0","value":1.1},"value":0.6}}},"y":{"field":"v","type":"quantitative"},"color":{"field":"m","type":"nominal"}}},
  {"data":{"name":"d"},"transform":[{"filter":"datum.p=='TNxG' && datum.m=='Random TS'"}],"mark":{"type":"rule","color":"#7f7f7f","strokeWidth":1.3},"encoding":{"x":{"field":"x","type":"quantitative"},"y":{"field":"lo","type":"quantitative"},"y2":{"field":"hi"}}},
  {"data":{"name":"d"},"transform":[{"filter":"datum.p=='TNxG'"}],"mark":{"type":"point","filled":true,"size":135,"opacity":1},"encoding":{"x":{"field":"x","type":"quantitative"},"y":{"field":"v","type":"quantitative"},"color":{"field":"m","type":"nominal"},"shape":{"field":"b","type":"nominal"}}}
]}
]
}
